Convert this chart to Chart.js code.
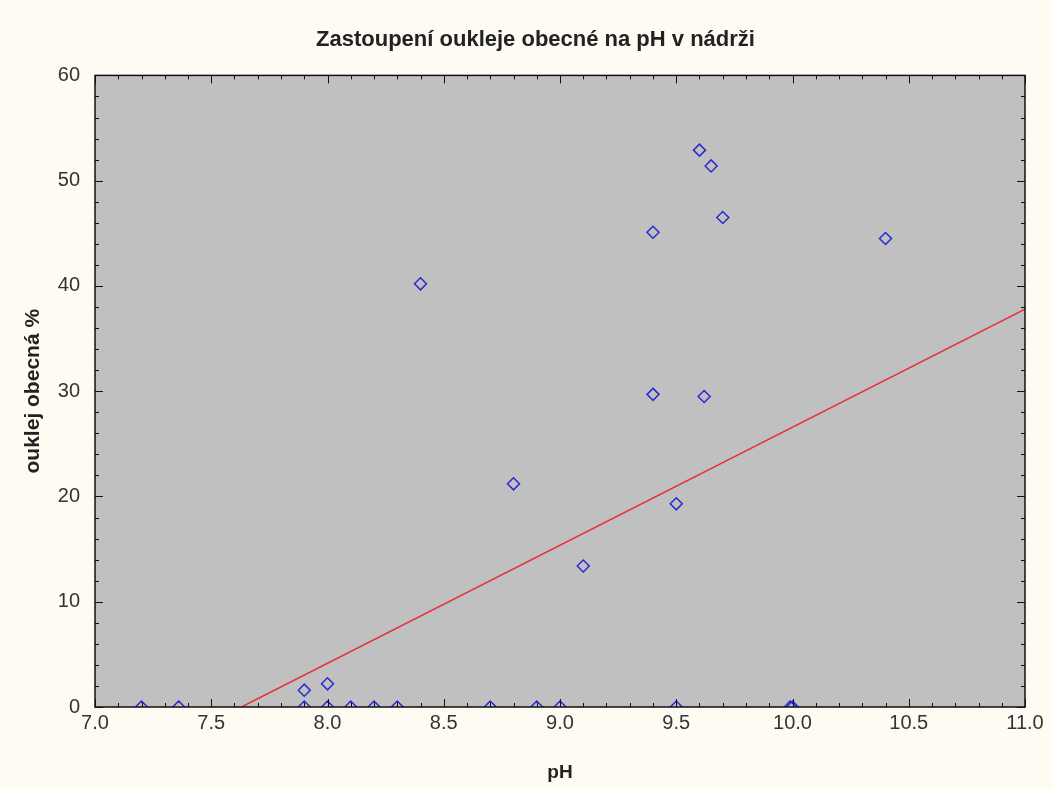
<!DOCTYPE html>
<html>
<head>
<meta charset="utf-8">
<style>
  html, body { margin: 0; padding: 0; background: #fefbf2; }
  #wrap { width: 1052px; height: 789px; }
</style>
<script src="https://cdn.jsdelivr.net/npm/chart.js@4/dist/chart.umd.min.js"></script>
</head>
<body>
<div id="wrap"><canvas id="chart" width="1052" height="789"></canvas></div>
<script>
// measured values (pH vs. % of bleak)
const phValues = [7.2, 7.36, 7.9, 7.9, 8.0, 8.0, 8.1, 8.2, 8.3, 8.4, 8.7, 8.8, 8.9, 9.0, 9.1, 9.4, 9.4, 9.5, 9.5, 9.6, 9.62, 9.65, 9.7, 9.99, 10.0, 10.4];
const ouklejValues = [0, 0, 0, 1.6, 0, 2.2, 0, 0, 0, 40.2, 0, 21.2, 0, 0, 13.4, 45.1, 29.7, 0, 19.3, 52.9, 29.5, 51.4, 46.5, 0, 0, 44.5];

// fitted line end points
const fitX = [7.63, 11.0];
const fitY = [0, 37.8];

const FONT = "'Liberation Sans', Arial, sans-serif";

const framePlugin = {
    id: "frame",
    afterLayout(chart) {
        // centre the title a bit to the right, like the original
        if (chart.titleBlock) {
            chart.titleBlock.left = 46;
            chart.titleBlock.right = 1025;
        }
    },
    beforeDraw(chart) {
        const ctx = chart.ctx;
        const a = chart.chartArea;
        ctx.save();
        ctx.fillStyle = "#fefbf2";
        ctx.fillRect(0, 0, chart.width, chart.height);
        ctx.fillStyle = "#c0c0c0";
        ctx.fillRect(a.left, a.top, a.right - a.left, a.bottom - a.top);
        ctx.restore();
    },
    afterDraw(chart) {
        const ctx = chart.ctx;
        const a = chart.chartArea;
        const x = chart.scales.x;
        const y = chart.scales.y;
        ctx.save();
        ctx.strokeStyle = "#111";
        ctx.lineWidth = 1.5;
        ctx.strokeRect(a.left, a.top, a.right - a.left, a.bottom - a.top);

        ctx.lineWidth = 1;
        ctx.beginPath();
        for (let i = 0; i <= 40; i++) {
            const px = Math.round(x.getPixelForValue(7 + i * 0.1)) + 0.5;
            const len = i % 5 === 0 ? 8 : 4;
            ctx.moveTo(px, a.bottom); ctx.lineTo(px, a.bottom - len);
            ctx.moveTo(px, a.top); ctx.lineTo(px, a.top + len);
        }
        for (let v = 0; v <= 60; v += 2) {
            const py = Math.round(y.getPixelForValue(v)) + 0.5;
            const len = v % 10 === 0 ? 8 : 4;
            ctx.moveTo(a.left, py); ctx.lineTo(a.left + len, py);
            ctx.moveTo(a.right, py); ctx.lineTo(a.right - len, py);
        }
        ctx.stroke();
        ctx.restore();
    }
};

const scatterPoints = phValues.map((v, i) => ({ x: v, y: ouklejValues[i] }));
const fitPoints = fitX.map((v, i) => ({ x: v, y: fitY[i] }));

new Chart(document.getElementById("chart").getContext("2d"), {
    type: "scatter",
    data: {
        datasets: [
            {
                label: "ouklej obecná",
                data: scatterPoints,
                pointStyle: "rectRot",
                pointRadius: 6,
                pointBorderWidth: 1.5,
                borderColor: "#2a2ad0",
                backgroundColor: "rgba(0,0,0,0)",
                clip: 0
            },
            {
                type: "line",
                label: "fit",
                data: fitPoints,
                borderColor: "#e8303c",
                borderWidth: 1.5,
                pointRadius: 0,
                fill: false
            }
        ]
    },
    options: {
        responsive: false,
        animation: false,
        layout: { padding: { left: 0, right: 27, top: 0, bottom: 0 } },
        plugins: {
            legend: { display: false },
            tooltip: { enabled: false },
            title: {
                display: true,
                text: "Zastoupení oukleje obecné na pH v nádrži",
                color: "#222",
                font: { family: FONT, size: 22, weight: "bold" },
                padding: { top: 27, bottom: 22 }
            }
        },
        scales: {
            x: {
                type: "linear",
                min: 7,
                max: 11,
                grid: { display: false, drawTicks: false },
                border: { display: false },
                ticks: {
                    stepSize: 0.5,
                    padding: 4,
                    color: "#333",
                    font: { family: FONT, size: 20 },
                    callback: v => v.toFixed(1)
                },
                title: {
                    display: true,
                    text: "pH",
                    color: "#222",
                    font: { family: FONT, size: 19, weight: "bold" },
                    padding: { top: 0, bottom: 5 }
                },
                afterFit(scale) { scale.height = 82; }
            },
            y: {
                min: 0,
                max: 60,
                grid: { display: false, drawTicks: false },
                border: { display: false },
                ticks: {
                    stepSize: 10,
                    padding: 15,
                    color: "#333",
                    font: { family: FONT, size: 20 }
                },
                title: {
                    display: true,
                    text: "ouklej obecná %",
                    color: "#222",
                    font: { family: FONT, size: 21, weight: "bold" },
                    padding: { top: 21, bottom: 0 }
                },
                afterFit(scale) { scale.width = 95; }
            }
        }
    },
    plugins: [framePlugin]
});
</script>
</body>
</html>
